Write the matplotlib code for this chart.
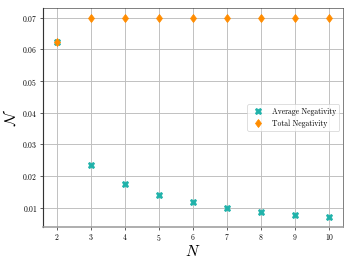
import matplotlib
matplotlib.use("Agg")
import matplotlib.pyplot as plt

plt.rcParams['font.family'] = 'serif'
plt.rcParams['font.serif'] = ['cmr10']
plt.rcParams['mathtext.fontset'] = 'cm'
plt.rcParams['axes.formatter.use_mathtext'] = True

# Data
N = [2, 3, 4, 5, 6, 7, 8, 9, 10]
avg_neg = [0.0625, 0.02333, 0.0175, 0.014, 0.01167, 0.01, 0.00875, 0.00778, 0.007]
total_neg = [0.0625, 0.07, 0.07, 0.07, 0.07, 0.07, 0.07, 0.07, 0.07]

fig, ax = plt.subplots(figsize=(6.4, 4.8))
ax.plot(N, avg_neg, 'X', color='lightseagreen', markersize=8, label='Average Negativity')
ax.plot(N, total_neg, 'd', color='darkorange', markersize=8, label='Total Negativity')
ax.grid(True, color='#bdbdbd', lw=1.2)
ax.set_xticks(N)
ax.set_xlabel(r'$N$', fontsize=20, labelpad=1)
ax.set_ylabel(r'$\mathcal{N}$', fontsize=20)
ax.spines['bottom'].set_color('#999999')
ax.spines['bottom'].set_linewidth(2)
ax.spines['left'].set_color('#333333')
ax.spines['left'].set_linewidth(1.5)
ax.spines['top'].set_color('#333333')
ax.spines['right'].set_color('#333333')
ax.legend(loc='center right')
fig.subplots_adjust(left=0.122, right=0.974, top=0.970, bottom=0.140)
plt.savefig('out.png', dpi=55)
